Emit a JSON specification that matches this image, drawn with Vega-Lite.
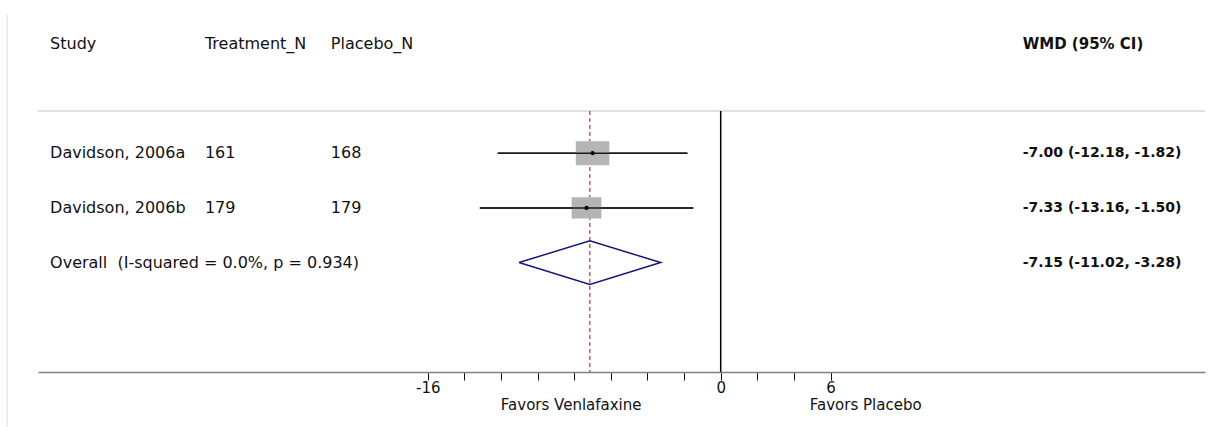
{
  "$schema": "https://vega.github.io/schema/vega-lite/v6.json",
  "width": 1167,
  "height": 372,
  "autosize": {"type": "none"},
  "padding": {"left": 38, "top": 0, "right": 13, "bottom": 55},
  "background": "white",
  "config": {
    "view": {"stroke": null},
    "axisX": {
      "domainColor": "#808080",
      "domainWidth": 1.5,
      "tickColor": "#111111",
      "tickWidth": 1,
      "tickSize": 8,
      "labelFont": "DejaVu Sans",
      "labelFontSize": 15,
      "labelColor": "#111111",
      "labelPadding": 0,
      "labelFlush": false,
      "labelOverlap": false,
      "grid": false
    },
    "text": {"font": "DejaVu Sans", "fontSize": 16, "color": "#111111", "align": "left", "baseline": "middle"}
  },
  "datasets": {
    "rows": [
      {"row": -1, "kind": "header", "study": "Study", "nt": "Treatment_N", "np": "Placebo_N", "ci": "WMD (95% CI)"},
      {"row": 1, "kind": "study", "study": "Davidson, 2006a", "nt": "161", "np": "168", "wmd": -7.00, "lo": -12.18, "hi": -1.82, "weight": 55.9, "ci": "-7.00 (-12.18, -1.82)"},
      {"row": 2, "kind": "study", "study": "Davidson, 2006b", "nt": "179", "np": "179", "wmd": -7.33, "lo": -13.16, "hi": -1.50, "weight": 44.1, "ci": "-7.33 (-13.16, -1.50)"},
      {"row": 3, "kind": "overall", "study": "Overall\u00a0 (I-squared = 0.0%, p = 0.934)", "nt": "", "np": "", "wmd": -7.15, "lo": -11.02, "hi": -3.28, "ci": "-7.15 (-11.02, -3.28)"}
    ],
    "diamond": [
      {"order": 1, "wmd": -11.02, "row": 3},
      {"order": 2, "wmd": -7.15, "row": 2.6},
      {"order": 3, "wmd": -3.28, "row": 3},
      {"order": 4, "wmd": -7.15, "row": 3.4},
      {"order": 5, "wmd": -11.02, "row": 3}
    ]
  },
  "layer": [
    {
      "data": {"name": "rows"},
      "transform": [{"filter": "datum.kind == 'study'"}],
      "mark": {"type": "rule", "color": "#1a1a1a", "strokeWidth": 1.5},
      "encoding": {
        "x": {
          "field": "lo", "type": "quantitative",
          "scale": {"domain": [-37.3, 26.46], "nice": false, "zero": false},
          "axis": {
            "values": [-16, -14, -12, -10, -8, -6, -4, -2, 0, 2, 4, 6],
            "labelExpr": "datum.value == -16 ? '-16' : datum.value == 0 ? '0' : datum.value == 6 ? '6' : ''",
            "title": null
          }
        },
        "x2": {"field": "hi"},
        "y": {"field": "row", "type": "quantitative", "scale": {"domain": [-1.8, 5], "reverse": true, "nice": false, "zero": false}, "axis": null}
      }
    },
    {
      "data": {"values": [{"line": "top"}]},
      "mark": {"type": "rule", "color": "#d6d6d6", "strokeWidth": 1.5},
      "encoding": {"y": {"datum": 0.23, "type": "quantitative"}}
    },
    {
      "data": {"values": [{"line": "frame"}]},
      "mark": {"type": "rule", "color": "#e3ecee", "strokeWidth": 1.5},
      "encoding": {
        "x": {"datum": -38.98, "type": "quantitative"},
        "y": {"datum": -1.53, "type": "quantitative"},
        "y2": {"datum": 6.0}
      }
    },
    {
      "data": {"values": [{"line": "zero"}]},
      "mark": {"type": "rule", "color": "#000000", "strokeWidth": 1.5},
      "encoding": {
        "x": {"datum": 0, "type": "quantitative"},
        "y": {"datum": 0.23, "type": "quantitative"},
        "y2": {"datum": 5}
      }
    },
    {
      "data": {"name": "rows"},
      "transform": [{"filter": "datum.kind == 'overall'"}],
      "mark": {"type": "rule", "color": "#b03a48", "strokeWidth": 1.2, "strokeDash": [4, 3]},
      "encoding": {
        "x": {"field": "wmd", "type": "quantitative"},
        "y": {"datum": 0.23, "type": "quantitative"},
        "y2": {"datum": 5}
      }
    },
    {
      "data": {"name": "rows"},
      "transform": [{"filter": "datum.kind == 'study'"}],
      "mark": {"type": "point", "filled": true, "opacity": 1, "color": "#b5b5b5", "shape": "M-1.4,-1H1.4V1H-1.4Z"},
      "encoding": {
        "x": {"field": "wmd", "type": "quantitative"},
        "y": {"field": "row", "type": "quantitative"},
        "size": {"field": "weight", "type": "quantitative", "scale": {"domain": [0, 55.9], "range": [0, 576], "zero": true}, "legend": null}
      }
    },
    {
      "data": {"name": "rows"},
      "transform": [{"filter": "datum.kind == 'study'"}],
      "mark": {"type": "rule", "color": "#1a1a1a", "strokeWidth": 1.5},
      "encoding": {
        "x": {"field": "lo", "type": "quantitative"},
        "x2": {"field": "hi"},
        "y": {"field": "row", "type": "quantitative"}
      }
    },
    {
      "data": {"name": "rows"},
      "transform": [{"filter": "datum.kind == 'study'"}],
      "mark": {"type": "point", "filled": true, "opacity": 1, "color": "#000000", "size": 18, "shape": "circle"},
      "encoding": {
        "x": {"field": "wmd", "type": "quantitative"},
        "y": {"field": "row", "type": "quantitative"}
      }
    },
    {
      "data": {"name": "diamond"},
      "mark": {"type": "line", "color": "#15157a", "strokeWidth": 1.5},
      "encoding": {
        "x": {"field": "wmd", "type": "quantitative"},
        "y": {"field": "row", "type": "quantitative"},
        "order": {"field": "order", "type": "quantitative"}
      }
    },
    {
      "data": {"name": "rows"},
      "mark": {"type": "text"},
      "encoding": {
        "x": {"datum": -36.64, "type": "quantitative"},
        "y": {"field": "row", "type": "quantitative"},
        "text": {"field": "study"}
      }
    },
    {
      "data": {"name": "rows"},
      "mark": {"type": "text"},
      "encoding": {
        "x": {"datum": -28.18, "type": "quantitative"},
        "y": {"field": "row", "type": "quantitative"},
        "text": {"field": "nt"}
      }
    },
    {
      "data": {"name": "rows"},
      "mark": {"type": "text"},
      "encoding": {
        "x": {"datum": -21.3, "type": "quantitative"},
        "y": {"field": "row", "type": "quantitative"},
        "text": {"field": "np"}
      }
    },
    {
      "data": {"name": "rows"},
      "transform": [{"filter": "datum.kind == 'header'"}],
      "mark": {"type": "text", "fontWeight": "bold", "fontSize": 15},
      "encoding": {
        "x": {"datum": 16.5, "type": "quantitative"},
        "y": {"field": "row", "type": "quantitative"},
        "text": {"field": "ci"}
      }
    },
    {
      "data": {"name": "rows"},
      "transform": [{"filter": "datum.kind != 'header'"}],
      "mark": {"type": "text", "fontWeight": "bold", "fontSize": 14},
      "encoding": {
        "x": {"datum": 16.5, "type": "quantitative"},
        "y": {"field": "row", "type": "quantitative"},
        "text": {"field": "ci"}
      }
    },
    {
      "data": {"values": [{"label": "Favors Venlafaxine"}]},
      "mark": {"type": "text", "align": "center", "fontSize": 15},
      "encoding": {
        "x": {"datum": -8.17, "type": "quantitative"},
        "y": {"datum": 5.6, "type": "quantitative"},
        "text": {"field": "label"}
      }
    },
    {
      "data": {"values": [{"label": "Favors Placebo"}]},
      "mark": {"type": "text", "align": "center", "fontSize": 15},
      "encoding": {
        "x": {"datum": 7.92, "type": "quantitative"},
        "y": {"datum": 5.6, "type": "quantitative"},
        "text": {"field": "label"}
      }
    }
  ]
}
